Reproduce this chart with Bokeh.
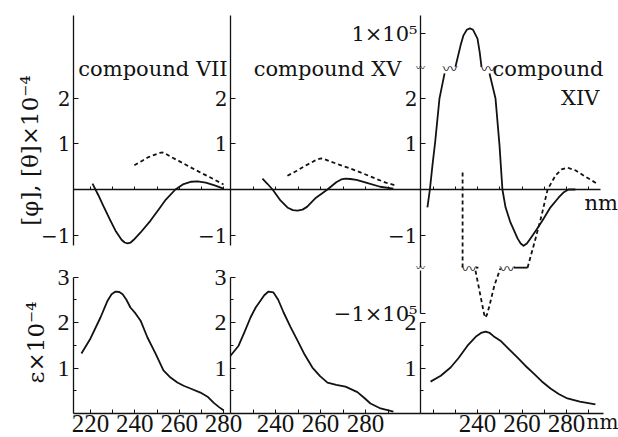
import math
from bokeh.plotting import figure
from bokeh.models import Range1d, LinearAxis, FixedTicker, Label
from bokeh.core.properties import value
from bokeh.embed import file_html
from bokeh.resources import INLINE

# ---------------- data (values in units of 10^4; nm on x) ----------------
# compound VII
vii_phi_nm = [220.9, 223.5, 226.0, 229.0, 231.5, 234.0, 235.4, 236.7, 238.1, 239.5, 242.6, 247.1, 251.0, 254.0, 258.3, 262.0, 265.5, 268.3, 272.0, 276.0, 280.0]
vii_phi = [0.13, -0.12, -0.38, -0.68, -0.92, -1.10, -1.16, -1.18, -1.16, -1.10, -0.94, -0.68, -0.42, -0.22, 0.0, 0.12, 0.17, 0.18, 0.15, 0.09, 0.02]
vii_theta_nm = [239.8, 243.0, 246.2, 249.5, 251.3, 252.5, 254.0, 256.0, 260.0, 265.0, 270.0, 275.0, 280.0]
vii_theta = [0.53, 0.62, 0.71, 0.77, 0.80, 0.81, 0.78, 0.72, 0.62, 0.49, 0.36, 0.24, 0.11]
vii_eps_nm = [215.9, 220.0, 224.5, 227.7, 229.5, 231.3, 233.0, 234.5, 236.2, 238.0, 240.3, 242.6, 245.7, 249.3, 252.9, 256.1, 259.2, 262.0, 265.1, 269.6, 272.8, 275.5, 278.0, 280.0]
vii_eps = [1.32, 1.65, 2.11, 2.48, 2.62, 2.68, 2.67, 2.62, 2.50, 2.33, 2.20, 2.04, 1.67, 1.32, 0.95, 0.79, 0.68, 0.61, 0.55, 0.46, 0.37, 0.24, 0.14, 0.07]

# compound XV
xv_phi_nm = [234.2, 236.5, 238.7, 242.2, 245.5, 247.7, 249.8, 252.0, 254.0, 258.0, 263.1, 267.0, 269.2, 271.1, 273.2, 276.0, 281.0, 286.5, 292.4]
xv_phi = [0.24, 0.12, 0.0, -0.24, -0.40, -0.45, -0.46, -0.44, -0.38, -0.18, 0.0, 0.16, 0.22, 0.24, 0.23, 0.21, 0.14, 0.06, 0.02]
xv_theta_nm = [245.3, 249.5, 253.3, 257.0, 258.8, 260.4, 262.0, 264.0, 268.5, 273.3, 278.5, 284.4, 289.0, 293.3]
xv_theta = [0.30, 0.41, 0.52, 0.62, 0.66, 0.68, 0.66, 0.62, 0.54, 0.46, 0.36, 0.24, 0.15, 0.09]
xv_eps_nm = [220.0, 223.6, 226.3, 228.9, 231.2, 233.3, 235.0, 236.9, 239.1, 241.2, 243.6, 246.7, 249.8, 253.0, 256.4, 259.8, 263.1, 267.0, 271.1, 276.4, 279.5, 282.2, 286.7, 292.4]
xv_eps = [1.27, 1.49, 1.80, 2.11, 2.33, 2.48, 2.60, 2.68, 2.66, 2.50, 2.22, 1.90, 1.60, 1.29, 1.01, 0.82, 0.68, 0.63, 0.59, 0.47, 0.34, 0.22, 0.11, 0.04]

# compound XIV (broken axis: main part, part above 1x10^5 break, part below -1x10^5 break)
xiv_phi_a_nm = [217.5, 218.6, 219.8, 221.0, 222.9, 225.2]
xiv_phi_a = [-0.39, 0.0, 0.55, 1.05, 1.99, 2.54]
xiv_phi_peak_nm = [230.1, 232.4, 233.7, 235.2, 236.6, 238.0, 240.0, 241.0, 241.8]
xiv_phi_peak = [9.10, 9.68, 9.95, 10.10, 10.14, 10.10, 9.86, 9.49, 9.10]
xiv_phi_b_nm = [245.4, 248.1, 249.9, 251.2, 252.6, 254.8, 258.0, 259.4, 260.7, 262.2, 263.8, 266.5, 269.2, 272.8, 276.4, 278.8, 280.9, 284.0]
xiv_phi_b = [2.54, 1.99, 0.96, 0.0, -0.39, -0.72, -1.07, -1.18, -1.23, -1.18, -1.07, -0.88, -0.68, -0.39, -0.18, -0.06, 0.0, 0.0]
xiv_theta_a_nm = [233.3, 233.3]
xiv_theta_a = [0.37, -1.71]
xiv_theta_trough_nm = [239.1, 240.4, 242.2, 243.0, 243.6, 244.3, 245.4, 247.6, 250.3]
xiv_theta_trough = [-9.09, -9.40, -9.83, -10.02, -10.09, -10.02, -9.83, -9.40, -9.04]
xiv_theta_b_nm = [262.5, 266.1, 268.8, 271.5, 275.1, 277.8, 280.4, 284.0, 288.5, 294.4]
xiv_theta_b = [-1.71, -1.07, -0.57, 0.0, 0.31, 0.44, 0.48, 0.42, 0.28, 0.11]
xiv_eps_nm = [218.9, 223.5, 227.9, 231.5, 235.5, 239.5, 241.6, 243.6, 245.5, 247.2, 250.3, 254.0, 258.0, 261.5, 265.2, 268.8, 272.8, 276.5, 280.4, 286.0, 293.0]
xiv_eps = [0.70, 0.83, 1.01, 1.22, 1.49, 1.70, 1.77, 1.80, 1.77, 1.70, 1.60, 1.42, 1.23, 1.05, 0.88, 0.71, 0.55, 0.43, 0.33, 0.26, 0.20]
# break connectors (nm spans) at the upper / lower break levels
xiv_break_upper_nm = [(224.3, 231.0), (241.3, 248.1)]
xiv_break_lower_nm = [(232.8, 240.4), (249.9, 262.5)]
break_upper_level = 2.67
break_lower_level = -1.71

# tick values
top_ticks = [-1, 1, 2]
zero_ticks_1 = [220, 230, 240, 250, 260, 270, 280]
zero_ticks_2 = [230, 240, 250, 260, 270, 280, 290]
zero_ticks_3 = [220, 230, 240, 250, 260, 270, 280, 290]
bot_ticks_12 = [1, 2, 3]
bot_minor_12 = [0.5, 1.5, 2.5]
bot_ticks_3 = [1, 2]
bot_minor_3 = [0.5, 1.5]
x_ticks_1 = [220, 240, 260, 280]
x_minor_1 = [230, 250, 270]
x_ticks_23 = [240, 260, 280]
x_minor_2 = [230, 250, 270, 290]
x_minor_3 = [220, 230, 250, 270, 290]

# ---------------- layout helpers ----------------
W, H = 618, 437
OX, OY = 0, 0
ANCH = {
    "x1": ((220, 90), (280, 223)),
    "x2": ((240, 275), (280, 365)),
    "x3": ((240, 477), (280, 566)),
    "top": ((0, 189), (2, 97.6)),
    "bot": ((0, 413), (3, 276.5)),
    "up": ((10, 33), (9, 70)),
    "low": ((-10, 313), (-9, 266)),
}


def tv(name, px):
    (v0, p0), (v1, p1) = ANCH[name]
    return v0 + (px - p0) * (v1 - v0) / (p1 - p0)


def rn(name):
    return "default" if name in ("x1", "top") else name


RNG = {}
for n in ("x1", "x2", "x3"):
    RNG[n] = Range1d(start=tv(n, OX), end=tv(n, OX + W))
for n in ("top", "bot", "up", "low"):
    RNG[n] = Range1d(start=tv(n, OY + H), end=tv(n, OY))

INK = "#121212"
LW = 1.8
DASH = "4 3"
SERIF = "DejaVu Serif"

p = figure(width=W, height=H, x_range=RNG["x1"], y_range=RNG["top"],
           output_backend="svg", toolbar_location=None,
           x_axis_location=None, y_axis_location=None, min_border=0,
           outline_line_color=None, background_fill_color="white",
           border_fill_color="white")
p.extra_x_ranges = {"x2": RNG["x2"], "x3": RNG["x3"]}
p.extra_y_ranges = {"bot": RNG["bot"], "up": RNG["up"], "low": RNG["low"]}
p.grid.visible = False


def line(xs, ys, xr, yr, dash="solid"):
    p.line(xs, ys, x_range_name=rn(xr), y_range_name=rn(yr),
           line_color=INK, line_width=LW, line_dash=dash, line_join="round")


def vaxis(xr, yr, loc_px, top_px, bot_px, ticks, minor=(), labels=None,
          font=SERIF, size="20px", standoff=3):
    ax = LinearAxis(x_range_name=rn(xr), y_range_name=rn(yr),
                    fixed_location=tv(xr, loc_px),
                    bounds=(tv(yr, bot_px), tv(yr, top_px)),
                    ticker=FixedTicker(ticks=list(ticks), minor_ticks=list(minor)),
                    major_tick_in=5, major_tick_out=0,
                    minor_tick_in=3, minor_tick_out=0,
                    axis_line_color=INK, axis_line_width=1.3,
                    major_tick_line_color=INK, minor_tick_line_color=INK,
                    major_label_text_font=font, major_label_text_font_size=size,
                    major_label_text_color=INK, major_label_standoff=standoff)
    if labels:
        ax.major_label_overrides = labels
    p.add_layout(ax, "left")


def haxis(xr, yr, loc_val, left_px, right_px, ticks, minor=(), tick_len=4):
    ax = LinearAxis(x_range_name=rn(xr), y_range_name=rn(yr),
                    fixed_location=loc_val,
                    bounds=(tv(xr, left_px), tv(xr, right_px)),
                    ticker=FixedTicker(ticks=list(ticks), minor_ticks=list(minor)),
                    major_tick_in=tick_len, major_tick_out=0,
                    minor_tick_in=tick_len, minor_tick_out=0,
                    axis_line_color=INK, axis_line_width=1.3,
                    major_tick_line_color=INK, minor_tick_line_color=INK,
                    major_label_text_font="Liberation Serif",
                    major_label_text_font_size="25px",
                    major_label_text_color=INK, major_label_standoff=1)
    p.add_layout(ax, "below")


def label(text, xr, yr, px, py, size="21px", align="left", baseline="alphabetic",
          angle=0.0, font=SERIF):
    p.add_layout(Label(x=tv(xr, px), y=tv(yr, py), x_range_name=rn(xr),
                       y_range_name=rn(yr), text=text, text_font=font,
                       text_font_size=size, text_align=align,
                       text_baseline=baseline, angle=angle, text_color=INK))


MINUS1 = {-1: "\u22121"}

# ---------------- axes ----------------
# top panels (rotation / ellipticity)
vaxis("x1", "top", 73, 15, 245, top_ticks, labels=MINUS1)
vaxis("x2", "top", 230, 15, 245, top_ticks, labels=MINUS1)
vaxis("x3", "top", 420, 67, 267, top_ticks, labels=MINUS1)
vaxis("x3", "up", 420, 15, 67, [10], labels={10: "1\u00d710\u2075"}, size="21px")
vaxis("x3", "low", 420, 270, 313, [-10], labels={-10: "\u22121\u00d710\u2075"}, size="21px")
# zero lines with small unlabeled ticks
haxis("x1", "top", 0, 73, 230, [], zero_ticks_1, tick_len=3)
haxis("x2", "top", 0, 230, 420, [], zero_ticks_2, tick_len=3)
haxis("x3", "top", 0, 420, 600, [], zero_ticks_3, tick_len=3)

# bottom panels (absorption)
vaxis("x1", "bot", 73, 276.5, 413, bot_ticks_12, bot_minor_12,
      font="Liberation Serif", size="24px", standoff=4)
vaxis("x2", "bot", 230, 276.5, 413, bot_ticks_12, bot_minor_12,
      font="Liberation Serif", size="24px", standoff=4)
vaxis("x3", "bot", 420, 322, 413, bot_ticks_3, bot_minor_3,
      font="Liberation Serif", size="24px", standoff=4)
haxis("x1", "bot", 0, 73, 230, x_ticks_1, x_minor_1)
haxis("x2", "bot", 0, 230, 420, x_ticks_23, x_minor_2)
haxis("x3", "bot", 0, 420, 603, x_ticks_23, x_minor_3)

# ---------------- curves ----------------
line(vii_phi_nm, vii_phi, "x1", "top")
line(vii_theta_nm, vii_theta, "x1", "top", DASH)
line(vii_eps_nm, vii_eps, "x1", "bot")

line(xv_phi_nm, xv_phi, "x2", "top")
line(xv_theta_nm, xv_theta, "x2", "top", DASH)
line(xv_eps_nm, xv_eps, "x2", "bot")

line(xiv_phi_a_nm, xiv_phi_a, "x3", "top")
line(xiv_phi_peak_nm, xiv_phi_peak, "x3", "up")
line(xiv_phi_b_nm, xiv_phi_b, "x3", "top")
line(xiv_theta_a_nm, xiv_theta_a, "x3", "top", DASH)
line(xiv_theta_trough_nm, xiv_theta_trough, "x3", "low", DASH)
line(xiv_theta_b_nm, xiv_theta_b, "x3", "top", DASH)
line(xiv_eps_nm, xiv_eps, "x3", "bot")

# break connectors: wavy start + straight remainder
WAVE_NM = 6.5
for spans, lvl in ((xiv_break_upper_nm, break_upper_level),
                   (xiv_break_lower_nm, break_lower_level)):
    for a, b in spans:
        p.text(x=[a], y=[lvl], text=["\u3030"], x_range_name="x3",
               text_font=value("Noto Sans CJK JP"), text_font_size="15px",
               text_align="left", text_baseline="middle", text_color=INK)
        if b - a > WAVE_NM + 1:
            line([a + WAVE_NM, b], [lvl, lvl], "x3", "top")
# break marks on the XIV axis
p.text(x=[tv("x3", 420)] * 2, y=[break_upper_level, break_lower_level],
       text=["\u3030"] * 2, x_range_name="x3",
       text_font=value("Noto Sans CJK JP"), text_font_size="9px",
       text_align="center", text_baseline="middle", text_color=INK)

# ---------------- texts ----------------
label("compound VII", "x1", "top", 152.5, 68, align="center")
label("compound XV", "x2", "top", 327, 68, align="center")
label("compound", "x3", "top", 603, 68, align="right")
label("XIV", "x3", "top", 599, 97, align="right")
label("nm", "x3", "top", 584, 202)
label("nm", "x3", "bot", 586, 433, size="20px", baseline="bottom")
label("[\u03c6], [\u03b8]\u00d710\u207b\u2074", "x1", "top", 29, 150, size="23px",
      align="center", baseline="middle", angle=math.pi / 2)
label("\u03b5\u00d710\u207b\u2074", "x1", "bot", 35, 342, size="23px",
      align="center", baseline="middle", angle=math.pi / 2)

open("out.html", "w").write(file_html(p, INLINE))
